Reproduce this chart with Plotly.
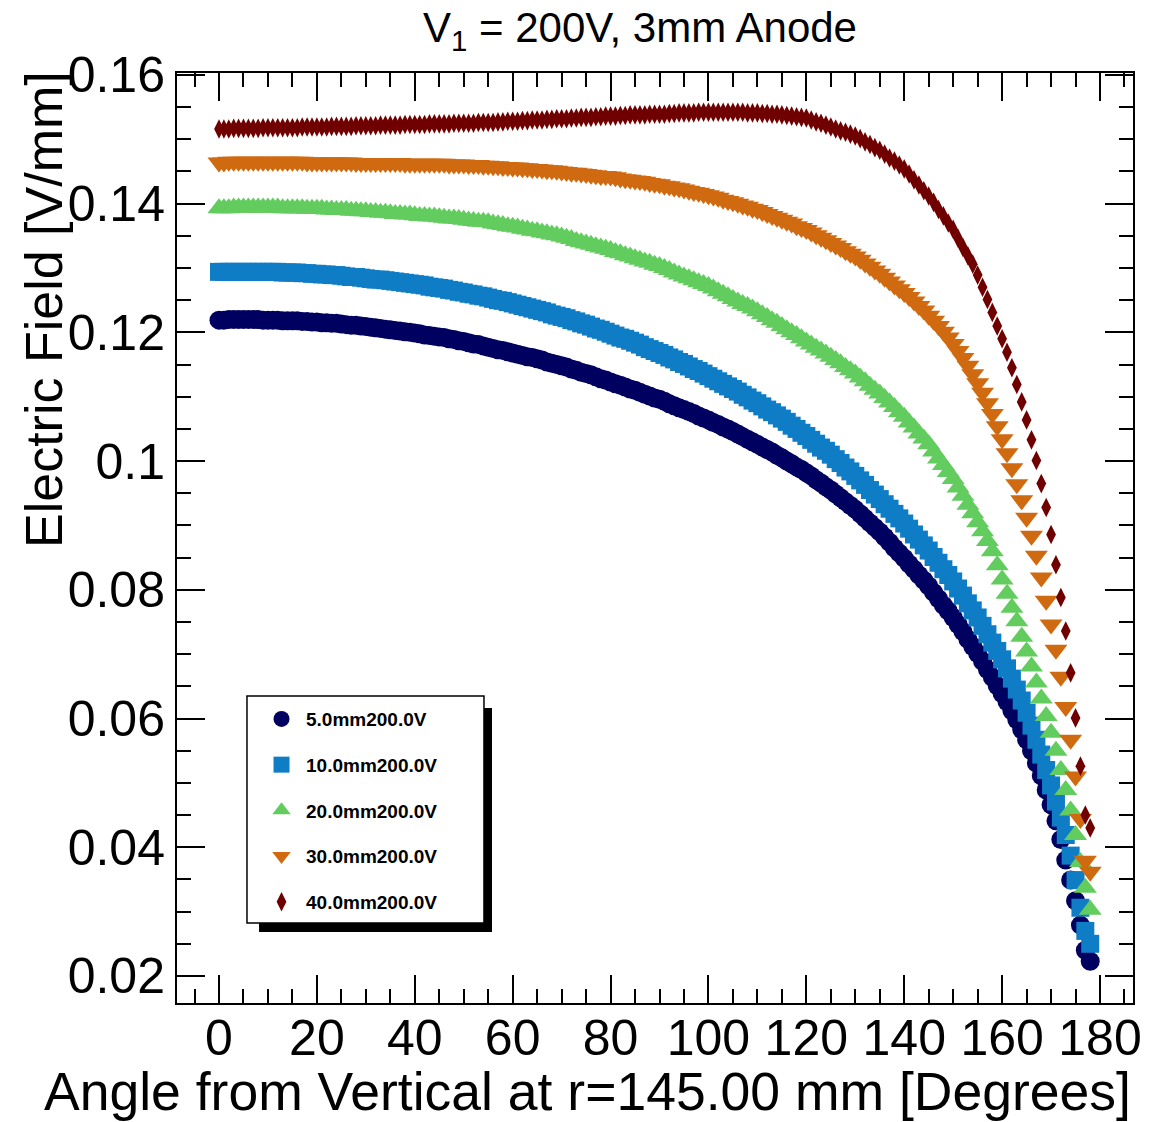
import plotly.graph_objects as go

# ---------------- data ----------------
angle_deg = list(range(0, 179))

field_5mm = [
    0.1219, 0.1219, 0.1220, 0.1220, 0.1220,
    0.1220, 0.1220, 0.1220, 0.1220, 0.1219,
    0.1219, 0.1219, 0.1219, 0.1218, 0.1218,
    0.1218, 0.1218, 0.1217, 0.1217, 0.1216,
    0.1216, 0.1215, 0.1215, 0.1214, 0.1214,
    0.1213, 0.1212, 0.1211, 0.1211, 0.1210,
    0.1209, 0.1208, 0.1207, 0.1206, 0.1205,
    0.1204, 0.1203, 0.1202, 0.1201, 0.1200,
    0.1199, 0.1198, 0.1196, 0.1195, 0.1194,
    0.1193, 0.1192, 0.1190, 0.1189, 0.1187,
    0.1186, 0.1184, 0.1182, 0.1181, 0.1179,
    0.1177, 0.1175, 0.1173, 0.1172, 0.1170,
    0.1168, 0.1166, 0.1164, 0.1162, 0.1161,
    0.1159, 0.1157, 0.1154, 0.1152, 0.1150,
    0.1148, 0.1146, 0.1143, 0.1141, 0.1138,
    0.1136, 0.1134, 0.1131, 0.1128, 0.1126,
    0.1123, 0.1120, 0.1118, 0.1115, 0.1112,
    0.1110, 0.1107, 0.1104, 0.1101, 0.1098,
    0.1096, 0.1093, 0.1089, 0.1086, 0.1083,
    0.1080, 0.1077, 0.1074, 0.1070, 0.1067,
    0.1064, 0.1060, 0.1057, 0.1053, 0.1050,
    0.1046, 0.1042, 0.1038, 0.1034, 0.1030,
    0.1026, 0.1022, 0.1018, 0.1014, 0.1009,
    0.1005, 0.1000, 0.0996, 0.0991, 0.0987,
    0.0982, 0.0977, 0.0971, 0.0966, 0.0960,
    0.0955, 0.0949, 0.0943, 0.0937, 0.0931,
    0.0925, 0.0918, 0.0911, 0.0904, 0.0897,
    0.0890, 0.0882, 0.0874, 0.0865, 0.0857,
    0.0849, 0.0840, 0.0832, 0.0823, 0.0815,
    0.0806, 0.0796, 0.0786, 0.0776, 0.0767,
    0.0757, 0.0746, 0.0735, 0.0723, 0.0712,
    0.0701, 0.0689, 0.0676, 0.0664, 0.0651,
    0.0639, 0.0626, 0.0612, 0.0598, 0.0583,
    0.0567, 0.0550, 0.0531, 0.0511, 0.0489,
    0.0466, 0.0441, 0.0412, 0.0380, 0.0349,
    0.0317, 0.0279, 0.0240, 0.0223,
]

field_10mm = [
    0.1294, 0.1294, 0.1294, 0.1294, 0.1294,
    0.1294, 0.1294, 0.1294, 0.1294, 0.1294,
    0.1294, 0.1294, 0.1294, 0.1293, 0.1293,
    0.1293, 0.1293, 0.1292, 0.1292, 0.1291,
    0.1291, 0.1290, 0.1290, 0.1289, 0.1289,
    0.1288, 0.1287, 0.1286, 0.1286, 0.1285,
    0.1284, 0.1283, 0.1282, 0.1282, 0.1281,
    0.1280, 0.1279, 0.1278, 0.1277, 0.1276,
    0.1275, 0.1274, 0.1273, 0.1271, 0.1270,
    0.1269, 0.1268, 0.1266, 0.1265, 0.1263,
    0.1262, 0.1260, 0.1259, 0.1257, 0.1256,
    0.1254, 0.1252, 0.1250, 0.1249, 0.1247,
    0.1245, 0.1243, 0.1241, 0.1239, 0.1237,
    0.1235, 0.1233, 0.1231, 0.1228, 0.1226,
    0.1224, 0.1222, 0.1219, 0.1217, 0.1214,
    0.1212, 0.1209, 0.1206, 0.1204, 0.1201,
    0.1198, 0.1195, 0.1192, 0.1190, 0.1187,
    0.1184, 0.1181, 0.1177, 0.1174, 0.1171,
    0.1168, 0.1165, 0.1161, 0.1158, 0.1154,
    0.1151, 0.1147, 0.1143, 0.1140, 0.1136,
    0.1132, 0.1128, 0.1124, 0.1120, 0.1116,
    0.1112, 0.1108, 0.1103, 0.1099, 0.1094,
    0.1090, 0.1085, 0.1080, 0.1076, 0.1071,
    0.1066, 0.1061, 0.1055, 0.1050, 0.1044,
    0.1039, 0.1033, 0.1027, 0.1021, 0.1016,
    0.1010, 0.1003, 0.0997, 0.0990, 0.0984,
    0.0977, 0.0970, 0.0963, 0.0955, 0.0948,
    0.0941, 0.0933, 0.0926, 0.0918, 0.0911,
    0.0903, 0.0895, 0.0886, 0.0878, 0.0869,
    0.0861, 0.0851, 0.0842, 0.0832, 0.0823,
    0.0813, 0.0802, 0.0791, 0.0779, 0.0768,
    0.0757, 0.0744, 0.0731, 0.0718, 0.0705,
    0.0692, 0.0678, 0.0662, 0.0645, 0.0628,
    0.0609, 0.0589, 0.0567, 0.0544, 0.0520,
    0.0496, 0.0471, 0.0446, 0.0419, 0.0387,
    0.0349, 0.0306, 0.0270, 0.0250,
]

field_20mm = [
    0.1393, 0.1393, 0.1393, 0.1394, 0.1394,
    0.1394, 0.1394, 0.1394, 0.1394, 0.1394,
    0.1394, 0.1394, 0.1394, 0.1393, 0.1393,
    0.1393, 0.1393, 0.1393, 0.1392, 0.1392,
    0.1392, 0.1392, 0.1391, 0.1391, 0.1390,
    0.1390, 0.1390, 0.1389, 0.1389, 0.1388,
    0.1388, 0.1387, 0.1387, 0.1386, 0.1386,
    0.1385, 0.1384, 0.1384, 0.1383, 0.1383,
    0.1382, 0.1381, 0.1381, 0.1380, 0.1380,
    0.1379, 0.1378, 0.1377, 0.1377, 0.1376,
    0.1375, 0.1374, 0.1373, 0.1372, 0.1372,
    0.1371, 0.1369, 0.1368, 0.1367, 0.1365,
    0.1364, 0.1363, 0.1361, 0.1360, 0.1358,
    0.1357, 0.1355, 0.1354, 0.1352, 0.1351,
    0.1349, 0.1347, 0.1345, 0.1342, 0.1340,
    0.1338, 0.1336, 0.1334, 0.1332, 0.1330,
    0.1328, 0.1325, 0.1323, 0.1320, 0.1318,
    0.1315, 0.1313, 0.1310, 0.1308, 0.1305,
    0.1303, 0.1300, 0.1297, 0.1293, 0.1290,
    0.1287, 0.1284, 0.1281, 0.1278, 0.1275,
    0.1272, 0.1268, 0.1264, 0.1260, 0.1256,
    0.1252, 0.1248, 0.1244, 0.1241, 0.1237,
    0.1233, 0.1228, 0.1224, 0.1219, 0.1215,
    0.1210, 0.1205, 0.1200, 0.1196, 0.1191,
    0.1186, 0.1181, 0.1176, 0.1172, 0.1167,
    0.1162, 0.1157, 0.1152, 0.1146, 0.1141,
    0.1136, 0.1130, 0.1124, 0.1117, 0.1111,
    0.1105, 0.1098, 0.1091, 0.1084, 0.1076,
    0.1069, 0.1060, 0.1052, 0.1043, 0.1035,
    0.1026, 0.1015, 0.1004, 0.0994, 0.0983,
    0.0972, 0.0959, 0.0946, 0.0932, 0.0919,
    0.0905, 0.0891, 0.0876, 0.0860, 0.0838,
    0.0816, 0.0794, 0.0772, 0.0751, 0.0727,
    0.0704, 0.0681, 0.0656, 0.0631, 0.0604,
    0.0578, 0.0550, 0.0520, 0.0489, 0.0457,
    0.0419, 0.0377, 0.0337, 0.0303,
]

field_30mm = [
    0.1464, 0.1464, 0.1465, 0.1465, 0.1465,
    0.1465, 0.1465, 0.1465, 0.1465, 0.1465,
    0.1465, 0.1465, 0.1465, 0.1465, 0.1465,
    0.1465, 0.1465, 0.1465, 0.1464, 0.1464,
    0.1464, 0.1464, 0.1464, 0.1464, 0.1464,
    0.1464, 0.1464, 0.1464, 0.1463, 0.1463,
    0.1463, 0.1463, 0.1463, 0.1463, 0.1463,
    0.1463, 0.1463, 0.1463, 0.1462, 0.1462,
    0.1462, 0.1462, 0.1462, 0.1462, 0.1462,
    0.1462, 0.1462, 0.1461, 0.1461, 0.1461,
    0.1461, 0.1460, 0.1460, 0.1460, 0.1459,
    0.1459, 0.1458, 0.1458, 0.1457, 0.1457,
    0.1456, 0.1456, 0.1455, 0.1455, 0.1454,
    0.1454, 0.1453, 0.1452, 0.1452, 0.1451,
    0.1450, 0.1449, 0.1448, 0.1448, 0.1447,
    0.1446, 0.1445, 0.1444, 0.1443, 0.1443,
    0.1442, 0.1441, 0.1439, 0.1438, 0.1437,
    0.1436, 0.1435, 0.1434, 0.1432, 0.1431,
    0.1430, 0.1428, 0.1427, 0.1425, 0.1424,
    0.1422, 0.1420, 0.1418, 0.1417, 0.1415,
    0.1413, 0.1411, 0.1409, 0.1406, 0.1404,
    0.1402, 0.1400, 0.1397, 0.1395, 0.1392,
    0.1390, 0.1387, 0.1384, 0.1381, 0.1378,
    0.1375, 0.1372, 0.1369, 0.1365, 0.1362,
    0.1359, 0.1355, 0.1351, 0.1347, 0.1343,
    0.1339, 0.1335, 0.1331, 0.1326, 0.1322,
    0.1318, 0.1313, 0.1307, 0.1302, 0.1296,
    0.1291, 0.1285, 0.1279, 0.1273, 0.1267,
    0.1261, 0.1255, 0.1248, 0.1241, 0.1234,
    0.1226, 0.1218, 0.1210, 0.1201, 0.1192,
    0.1182, 0.1171, 0.1160, 0.1148, 0.1135,
    0.1121, 0.1106, 0.1090, 0.1073, 0.1054,
    0.1034, 0.1012, 0.0989, 0.0964, 0.0939,
    0.0912, 0.0884, 0.0853, 0.0819, 0.0783,
    0.0746, 0.0707, 0.0665, 0.0618, 0.0567,
    0.0510, 0.0444, 0.0379, 0.0362,
]

field_40mm = [
    0.1516, 0.1516, 0.1516, 0.1517, 0.1517,
    0.1517, 0.1517, 0.1517, 0.1517, 0.1518,
    0.1518, 0.1518, 0.1518, 0.1518, 0.1518,
    0.1518, 0.1518, 0.1519, 0.1519, 0.1519,
    0.1519, 0.1519, 0.1519, 0.1520, 0.1520,
    0.1520, 0.1520, 0.1520, 0.1521, 0.1521,
    0.1521, 0.1521, 0.1521, 0.1522, 0.1522,
    0.1522, 0.1522, 0.1522, 0.1523, 0.1523,
    0.1523, 0.1523, 0.1523, 0.1524, 0.1524,
    0.1524, 0.1524, 0.1524, 0.1525, 0.1525,
    0.1525, 0.1525, 0.1525, 0.1526, 0.1526,
    0.1526, 0.1526, 0.1527, 0.1527, 0.1528,
    0.1528, 0.1528, 0.1529, 0.1529, 0.1530,
    0.1530, 0.1530, 0.1531, 0.1531, 0.1532,
    0.1532, 0.1532, 0.1533, 0.1533, 0.1534,
    0.1534, 0.1534, 0.1535, 0.1535, 0.1536,
    0.1536, 0.1536, 0.1537, 0.1537, 0.1538,
    0.1538, 0.1538, 0.1538, 0.1539, 0.1539,
    0.1539, 0.1539, 0.1540, 0.1540, 0.1541,
    0.1541, 0.1541, 0.1541, 0.1542, 0.1542,
    0.1542, 0.1542, 0.1542, 0.1542, 0.1542,
    0.1542, 0.1542, 0.1542, 0.1541, 0.1541,
    0.1541, 0.1540, 0.1540, 0.1539, 0.1539,
    0.1538, 0.1537, 0.1536, 0.1535, 0.1534,
    0.1533, 0.1530, 0.1527, 0.1525, 0.1522,
    0.1519, 0.1516, 0.1513, 0.1511, 0.1508,
    0.1505, 0.1501, 0.1496, 0.1492, 0.1487,
    0.1483, 0.1477, 0.1471, 0.1466, 0.1460,
    0.1454, 0.1446, 0.1437, 0.1429, 0.1420,
    0.1412, 0.1402, 0.1391, 0.1381, 0.1370,
    0.1360, 0.1346, 0.1332, 0.1319, 0.1306,
    0.1289, 0.1270, 0.1251, 0.1231, 0.1210,
    0.1190, 0.1169, 0.1145, 0.1119, 0.1092,
    0.1064, 0.1033, 0.1001, 0.0965, 0.0928,
    0.0886, 0.0839, 0.0788, 0.0736, 0.0671,
    0.0601, 0.0526, 0.0450, 0.0430,
]

series_names = ["5.0mm200.0V", "10.0mm200.0V", "20.0mm200.0V",
                "30.0mm200.0V", "40.0mm200.0V"]
series_values = [field_5mm, field_10mm, field_20mm, field_30mm, field_40mm]
series_colors = ["#000060", "#0f7dc6", "#62cc5e", "#d06a10", "#700000"]
series_symbols = ["circle", "square", "triangle-up", "triangle-down", "diamond-tall"]
series_sizes = [19, 18, 20, 20, 14]

for vals in series_values:
    assert len(vals) == len(angle_deg), len(vals)

FONT = "Liberation Sans, Arial, Helvetica, sans-serif"

fig = go.Figure()
for name, vals, col, sym, sz in zip(series_names, series_values, series_colors,
                                     series_symbols, series_sizes):
    fig.add_trace(go.Scatter(
        x=angle_deg, y=vals, mode="markers", name=name, legendgroup=name,
        marker=dict(symbol=sym, size=sz, color=col, line=dict(width=0)),
    ))

axis_common = dict(
    showgrid=False, zeroline=False,
    showline=True, linecolor="black", linewidth=2, mirror="allticks",
    ticks="inside", tickcolor="black", tickwidth=1.5,
    tickfont=dict(family=FONT, size=50, color="black"),
)

fig.update_layout(
    width=1170, height=1122,
    margin=dict(l=177, r=37, t=73, b=119),
    paper_bgcolor="white", plot_bgcolor="white",
    font=dict(family=FONT, color="black"),
    title=dict(text="V<sub>1</sub> = 200V, 3mm Anode",
               x=640 / 1170, xref="container", xanchor="center",
               y=1 - 27 / 1122, yref="container", yanchor="middle",
               font=dict(family=FONT, size=42, color="black")),
    xaxis=dict(range=[-8.58, 186.74], tick0=0, dtick=20, ticklen=28,
               ticklabelstandoff=-10,
               minor=dict(dtick=5, ticks="inside", ticklen=14,
                          tickcolor="black", tickwidth=1.5, showgrid=False),
               **axis_common),
    yaxis=dict(range=[0.0158, 0.1603], tick0=0, dtick=0.02, ticklen=28,
               minor=dict(dtick=0.005, ticks="inside", ticklen=14,
                          tickcolor="black", tickwidth=1.5, showgrid=False),
               **axis_common),
    showlegend=True,
    legend=dict(x=0.0837, y=0.3257, xanchor="left", yanchor="top",
                bgcolor="rgba(0,0,0,0)", borderwidth=0,
                font=dict(family=FONT, size=19, color="black", weight="bold"),
                tracegroupgap=18, itemwidth=39, itemsizing="trace"),
    shapes=[
        dict(type="rect", xref="paper", yref="paper",
             x0=0.0858, x1=0.3295, y0=0.0763, y1=0.3172,
             fillcolor="black", line=dict(width=0), layer="above"),
        dict(type="rect", xref="paper", yref="paper",
             x0=0.0732, x1=0.3211, y0=0.0860, y1=0.3301,
             fillcolor="white", line=dict(color="black", width=1.5), layer="above"),
    ],
    annotations=[
        dict(text="Angle from Vertical at r=145.00 mm [Degrees]",
             xref="paper", yref="paper", x=1.0, y=-0.0953,
             xanchor="right", yanchor="middle", showarrow=False,
             font=dict(family=FONT, size=53.5, color="black")),
        dict(text="Electric Field [V/mm]", textangle=-90,
             xref="paper", yref="paper", x=-0.1391, y=0.7452,
             xanchor="center", yanchor="middle", showarrow=False,
             font=dict(family=FONT, size=52, color="black")),
    ],
)

fig.write_html("out.html")
